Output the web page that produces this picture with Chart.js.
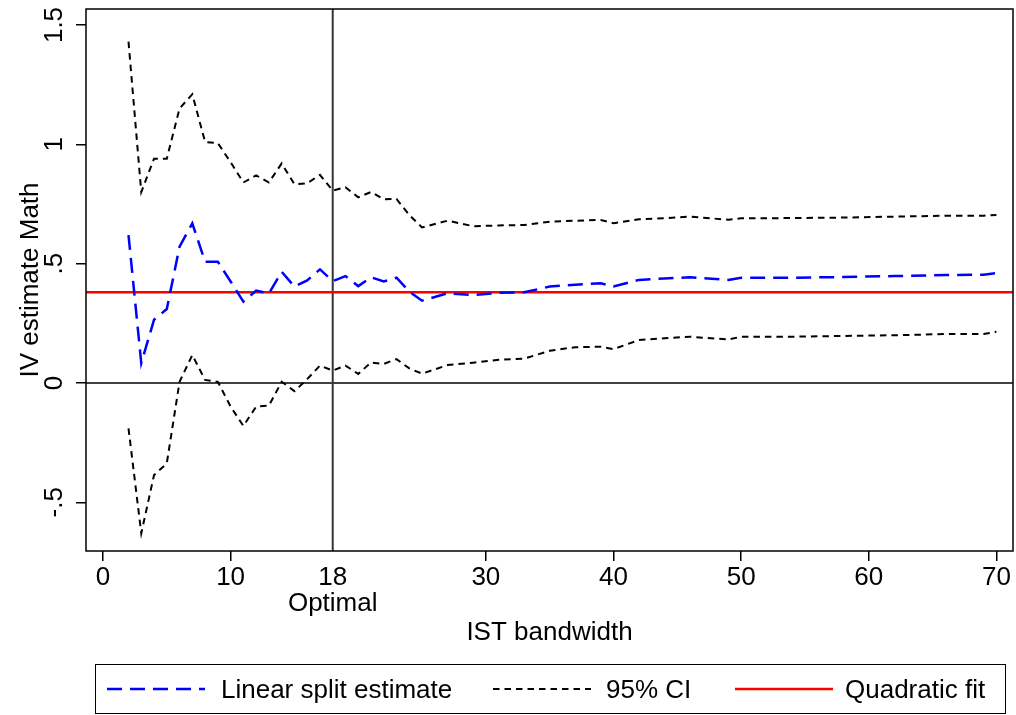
<!DOCTYPE html>
<html>
<head>
<meta charset="utf-8">
<script src="https://cdn.jsdelivr.net/npm/chart.js@4.4.1/dist/chart.umd.min.js"></script>
<style>
  body { margin: 0; background: #fff; font-family: 'Liberation Sans', Arial, sans-serif; }
  #wrap { position: relative; width: 1016px; height: 715px; }
  #legendBox {
    position: absolute; left: 95px; top: 664px; width: 909px; height: 48px;
    border: 1.5px solid #000; box-sizing: content-box;
  }
  .lg-item { position: absolute; top: 0; height: 48px; display: flex; align-items: center; font-size: 26px; color: #000; }
  .lg-item svg { display: block; }
</style>
</head>
<body>
<div id="wrap">
  <canvas id="ivChart" width="1016" height="715"></canvas>
  <div id="legendBox">
    <div class="lg-item" style="left:11px">
      <svg width="98" height="6"><line x1="0" y1="3" x2="98" y2="3" stroke="#0000ff" stroke-width="2.5" stroke-dasharray="15,8"/></svg>
      <span style="margin-left:16px">Linear split estimate</span>
    </div>
    <div class="lg-item" style="left:397px">
      <svg width="98" height="6"><line x1="0" y1="3" x2="98" y2="3" stroke="#000" stroke-width="2" stroke-dasharray="6.5,5"/></svg>
      <span style="margin-left:15px">95% CI</span>
    </div>
    <div class="lg-item" style="left:639px">
      <svg width="98" height="6"><line x1="0" y1="3" x2="98" y2="3" stroke="#ff0000" stroke-width="2.5"/></svg>
      <span style="margin-left:12px">Quadratic fit</span>
    </div>
  </div>
</div>
<script>
// bandwidths (IST) at which the split estimate was computed
const bandwidth = [2, 3, 4, 5, 6, 7, 8, 9, 10, 11, 12, 13, 14, 15, 16, 17, 18, 19, 20, 21, 22, 23, 24, 25,
    27, 29, 31, 33, 35, 37, 39, 40, 42, 44, 46, 49, 50, 54, 58, 62, 66, 69, 70];

const estimate = [0.62, 0.083, 0.265, 0.31, 0.571, 0.669, 0.508, 0.508, 0.425, 0.341, 0.387, 0.375,
    0.466, 0.404, 0.43, 0.476, 0.427, 0.448, 0.406, 0.443, 0.425, 0.441, 0.383, 0.345,
    0.376, 0.368, 0.378, 0.38, 0.404, 0.412, 0.418, 0.404, 0.432, 0.438, 0.443, 0.432, 0.441,
    0.441, 0.444, 0.448, 0.452, 0.454, 0.46];

const ciUpper = [1.43, 0.80, 0.94, 0.94, 1.15, 1.21, 1.01, 1.005, 0.925, 0.84, 0.87, 0.84,
    0.92, 0.833, 0.837, 0.872, 0.806, 0.82, 0.778, 0.80, 0.77, 0.771, 0.704, 0.652,
    0.68, 0.657, 0.66, 0.662, 0.676, 0.68, 0.683, 0.669, 0.686, 0.69, 0.697, 0.684, 0.69,
    0.691, 0.693, 0.697, 0.701, 0.701, 0.704];

const ciLower = [-0.19, -0.63, -0.386, -0.337, 0.005, 0.117, 0.013, 0.005, -0.099, -0.18, -0.099, -0.095,
    0.005, -0.034, 0.016, 0.073, 0.052, 0.073, 0.038, 0.086, 0.08, 0.10, 0.061, 0.039,
    0.075, 0.085, 0.097, 0.102, 0.135, 0.15, 0.152, 0.142, 0.18, 0.187, 0.194, 0.182, 0.194,
    0.194, 0.197, 0.20, 0.205, 0.205, 0.215];

// quadratic fit (flat over the shown range)
const quadX = [-1.4, 71.4];
const quadY = [0.38, 0.38];

const xTicks = [0, 10, 18, 30, 40, 50, 60, 70];
const xTickLabels = ['0', '10', ['18', 'Optimal'], '30', '40', '50', '60', '70'];
const yTicks = [-0.5, 0, 0.5, 1, 1.5];
const yTickLabels = ['-.5', '0', '.5', '1', '1.5'];

const optimalBw = 18;
const zeroLine = 0;

const FONT = "'Liberation Sans', Arial, sans-serif";
Chart.defaults.font.family = FONT;
Chart.defaults.color = '#000';

function pts(xs, ys) {
    return xs.map((x, i) => ({ x: x, y: ys[i] }));
}

const frame = {
    id: 'frame',
    beforeDatasetsDraw(chart) {
        const { ctx, chartArea: a, scales } = chart;
        ctx.save();
        ctx.strokeStyle = '#000';
        ctx.lineWidth = 1.5;
        const y0 = scales.y.getPixelForValue(zeroLine);
        ctx.beginPath();
        ctx.moveTo(a.left, y0);
        ctx.lineTo(a.right, y0);
        ctx.stroke();
        ctx.strokeStyle = '#333';
        ctx.lineWidth = 2;
        const x18 = scales.x.getPixelForValue(optimalBw);
        ctx.beginPath();
        ctx.moveTo(x18, a.top);
        ctx.lineTo(x18, a.bottom);
        ctx.stroke();
        ctx.restore();
    },
    afterDraw(chart) {
        const { ctx, chartArea: a } = chart;
        ctx.save();
        ctx.strokeStyle = '#000';
        ctx.lineWidth = 1.5;
        ctx.strokeRect(a.left, a.top, a.right - a.left, a.bottom - a.top);
        ctx.restore();
    }
};

new Chart(document.getElementById('ivChart'), {
    type: 'line',
    data: {
        datasets: [
            {
                label: 'Linear split estimate',
                data: pts(bandwidth, estimate),
                borderColor: '#0000ff',
                borderWidth: 2.5,
                borderDash: [15, 8],
                pointRadius: 0,
                tension: 0,
                fill: false
            },
            {
                label: '95% CI',
                data: pts(bandwidth, ciUpper),
                borderColor: '#000',
                borderWidth: 2,
                borderDash: [6.5, 5],
                pointRadius: 0,
                tension: 0,
                fill: false
            },
            {
                label: '95% CI lower',
                data: pts(bandwidth, ciLower),
                borderColor: '#000',
                borderWidth: 2,
                borderDash: [6.5, 5],
                pointRadius: 0,
                tension: 0,
                fill: false
            },
            {
                label: 'Quadratic fit',
                data: pts(quadX, quadY),
                borderColor: '#ff0000',
                borderWidth: 2.5,
                pointRadius: 0,
                tension: 0,
                fill: false
            }
        ]
    },
    plugins: [frame],
    options: {
        responsive: false,
        animation: false,
        devicePixelRatio: 1,
        layout: { padding: { top: 9, right: 3, bottom: 67, left: 0 } },
        plugins: { legend: { display: false }, tooltip: { enabled: false } },
        scales: {
            x: {
                type: 'linear',
                min: -1.33,
                max: 71.3,
                afterBuildTicks: s => { s.ticks = xTicks.map(v => ({ value: v })); },
                afterFit: s => { s.height = 97; },
                ticks: {
                    autoSkip: false,
                    maxRotation: 0,
                    minRotation: 0,
                    padding: 4,
                    font: { size: 26, lineHeight: 1.0 },
                    callback: (v) => xTickLabels[xTicks.indexOf(v)]
                },
                grid: {
                    drawOnChartArea: false,
                    tickLength: 10,
                    lineWidth: 1.5,
                    color: ctx => (ctx.tick && ctx.tick.value === optimalBw) ? 'rgba(0,0,0,0)' : '#000'
                },
                border: { display: false },
                title: {
                    display: true,
                    text: 'IST bandwidth',
                    font: { size: 26 },
                    padding: { top: 0, bottom: 0 }
                }
            },
            y: {
                type: 'linear',
                min: -0.704,
                max: 1.567,
                afterBuildTicks: s => { s.ticks = yTicks.map(v => ({ value: v })); },
                afterFit: s => { s.width = 86; s.paddingTop = 0; s.paddingBottom = 0; },
                ticks: {
                    autoSkip: false,
                    minRotation: 90,
                    maxRotation: 90,
                    crossAlign: 'center',
                    padding: 3,
                    font: { size: 26 },
                    callback: (v) => yTickLabels[yTicks.indexOf(v)]
                },
                grid: {
                    drawOnChartArea: false,
                    tickLength: 10,
                    lineWidth: 1.5,
                    color: '#000'
                },
                border: { display: false },
                title: {
                    display: true,
                    text: 'IV estimate Math',
                    font: { size: 26 },
                    padding: { top: 15, bottom: 0 }
                }
            }
        }
    }
});
</script>
</body>
</html>
